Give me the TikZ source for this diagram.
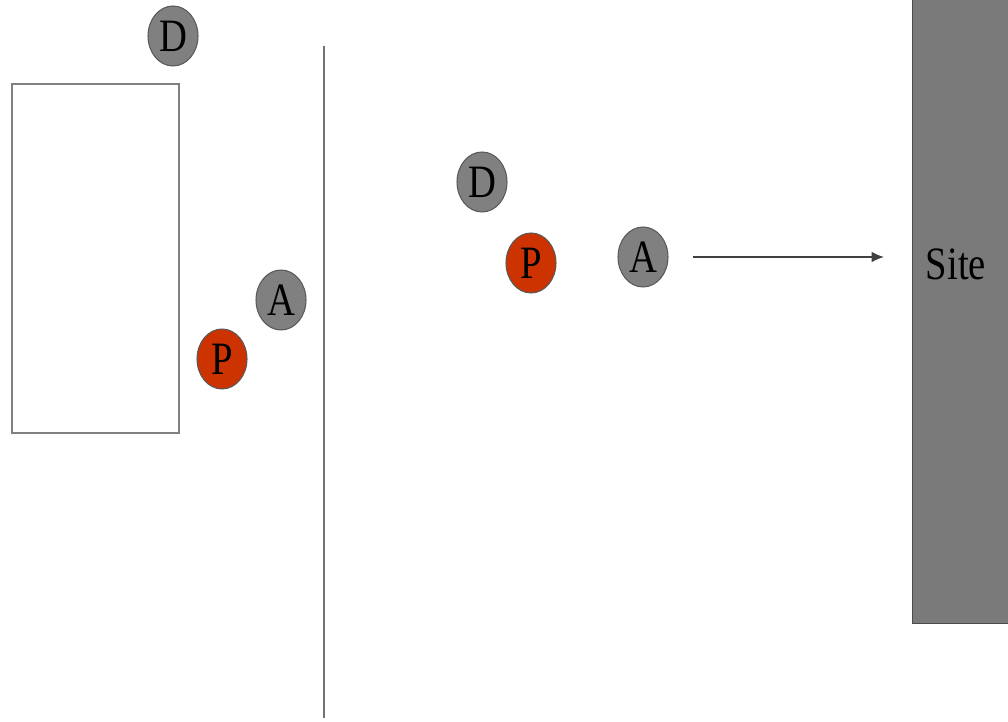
\documentclass[tikz,border=0pt]{standalone}
\usepackage{fontspec}
\setmainfont{Liberation Serif}
\usetikzlibrary{shapes.geometric,positioning,arrows.meta}
\definecolor{dotgray}{RGB}{128,128,128}
\definecolor{dotred}{RGB}{204,51,0}
\definecolor{sitegray}{RGB}{122,122,122}
\newcommand{\tallbox}[1]{\scalebox{1}[1.2]{#1}}

\begin{document}
\begin{tikzpicture}[x=0.02cm, y=-0.02cm, font=\fontsize{22}{26}\selectfont,
    agent/.style={draw=black!65, line width=0.6pt, ellipse, minimum width=1cm, minimum height=1.2cm, inner sep=0pt, fill=dotgray},
    pagent/.style={agent, fill=dotred}]
    \useasboundingbox (0,0) rectangle (1008,722);

    % building and wall on the left
    \node [draw=black!50, line width=1.2pt, rectangle, anchor=north west, minimum width=3.34cm, minimum height=6.98cm, inner sep=0pt] (house) at (11,83) {};
    \coordinate (walltop) at (324,46);
    \coordinate (wallbot) at (324,718);
    \draw [black!55, line width=1.1pt] (walltop) -- (wallbot);

    \node [agent] (dleft) at (173,36) {\tallbox{D}};
    \node [agent] (aleft) at (281,300) {\tallbox{A}};
    \node [pagent] (pleft) at (222,359) {\tallbox{P}};

    % group in the open
    \node [agent] (dmid) at (482,182) {\tallbox{D}};
    \node [pagent] (pmid) at (531,263) {\tallbox{P}};
    \node [agent] (amid) at (643,257) {\tallbox{A}};

    % site
    \node [draw=black!70, line width=0.8pt, fill=sitegray, rectangle, anchor=north west, minimum width=2.2cm, minimum height=12.5cm, inner sep=0pt] (site) at (912,-2) {};
    \node (sitelabel) at (956,264) {\tallbox{Site}};

    \draw [black!75, line width=0.8pt, -{Latex[length=7pt,width=6pt]}, shorten <=0.48cm, shorten >=0.56cm] (amid.east) -- (amid.east -| site.west);
\end{tikzpicture}
\end{document}
